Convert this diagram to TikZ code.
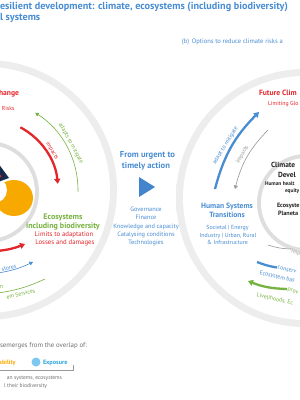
\documentclass[tikz,border=0pt]{standalone}
\usepackage{fontspec}
\setmainfont{PT Sans}
\usetikzlibrary{calc,arrows.meta}
\definecolor{ipblue}{RGB}{72,140,210}
\definecolor{iptri}{RGB}{66,133,204}
\definecolor{ipred}{RGB}{228,37,42}
\definecolor{ipgreen}{RGB}{118,178,63}
\definecolor{ipgray}{RGB}{150,150,150}
\definecolor{iptext}{RGB}{110,110,110}
\definecolor{ipdark}{RGB}{35,35,35}
\definecolor{iporange}{RGB}{247,169,0}
\definecolor{ipnavy}{RGB}{23,43,77}
\definecolor{iplight}{RGB}{125,200,240}
\definecolor{ipexpo}{RGB}{45,165,220}
\pgfdeclareradialshading{diskshade}{\pgfpoint{0bp}{0bp}}{color(0bp)=(white); color(34bp)=(white); color(50bp)=(black!5)}
\pgfdeclareradialshading{haloshade}{\pgfpoint{0bp}{0bp}}{color(0bp)=(black!7); color(47.2bp)=(black!7); color(50bp)=(white)}
\begin{document}
\begin{tikzpicture}[x=1pt,y=1pt,
  base/.style={inner sep=0pt, outer sep=0pt, text height=0.7em, text depth=0.2em},
  ttl/.style={base, font=\fontsize{10.2}{12}\selectfont\bfseries, text=ipblue},
  sub/.style={base, font=\fontsize{6.5}{8}\selectfont, text=ipblue},
  redhead/.style={base, font=\fontsize{7.6}{9}\selectfont\bfseries, text=ipred},
  redsm/.style={base, font=\fontsize{6.8}{8}\selectfont, text=ipred},
  midhead/.style={base, font=\fontsize{8.6}{10}\selectfont\bfseries, text=ipblue},
  bluehead/.style={base, font=\fontsize{7.6}{9}\selectfont\bfseries, text=ipblue},
  bluesm/.style={base, font=\fontsize{6.3}{8}\selectfont, text=ipblue},
  hsm/.style={base, font=\fontsize{5.9}{7}\selectfont, text=ipblue},
  greenhead/.style={base, font=\fontsize{8}{9}\selectfont\bfseries, text=ipgreen},
  darkhead/.style={base, font=\fontsize{7.4}{9}\selectfont\bfseries, text=ipdark},
  darksm/.style={base, font=\fontsize{5.4}{7}\selectfont\bfseries, text=ipdark},
  darkmid/.style={base, font=\fontsize{6.2}{7}\selectfont\bfseries, text=ipdark},
  arclab/.style={base, font=\fontsize{5.8}{7}\selectfont},
  legend/.style={base, font=\fontsize{6.8}{8}\selectfont, text=iptext},
  legsm/.style={base, font=\fontsize{5.5}{7}\selectfont, text=iptext},
  legbold/.style={base, font=\fontsize{6.2}{7}\selectfont\bfseries},
  thickarc/.style={line width=2.3pt},
  thinarc/.style={line width=0.6pt},
  tip/.style={-{Triangle[length=5pt,width=6pt]}},
  smalltip/.style={-{Triangle[length=3.5pt,width=4pt]}}
]
\useasboundingbox (0,0) rectangle (300,-400);
\clip (0,0) rectangle (300,-400);
\coordinate (L) at (-13,-190);
\coordinate (Lin) at (-12,-192);
\coordinate (R) at (305,-198);
\coordinate (Rin) at (306,-203);
% disks
\shade[shading=haloshade] (L) circle (130);
\shade[shading=haloshade] (R) circle (129);
\shade[shading=diskshade] (L) circle (123);
\shade[shading=diskshade] (R) circle (122);
\fill[black!13] (Lin) circle (51);
\fill[white] (Lin) circle (47);
\fill[black!13] (Rin) circle (49);
\fill[white] (Rin) circle (45);
% left inner content
\begin{scope}
\clip (Lin) circle (47);
\fill[iporange] (14,-198) ellipse [x radius=19, y radius=18];
\fill[white] (-6,-190) circle (13);
\fill[ipnavy] (-2,-163) -- (9,-178) -- (-2,-182) -- cycle;
\fill[ipred] (0,-176) circle (1.5);
\end{scope}
% title
\node[ttl, anchor=west] (t1) at (0,-6.5) {esilient development: climate, ecosystems (including biodiversity)};
\node[ttl, anchor=west] (t2) at (0,-17.5) {l systems};
\node[sub, anchor=west] (tb) at (182,-41) {(b)\, Options to reduce climate risks a};
% left disk texts
\node[redhead, anchor=east] (cc) at (19,-93) {hange};
\node[redsm, font=\fontsize{5.8}{7}\selectfont, anchor=east] (rk) at (14.5,-108) {Risks};
\draw[thickarc, ipred, tip] ($(L)+(62:71)$) arc[start angle=62, end angle=5, radius=71];
\node[arclab, text=ipred, rotate=-59] (li) at ($(L)+(31:77)$) {impacts};
\draw[thinarc, ipgreen, smalltip] ($(L)+(-1:91)$) arc[start angle=-1, end angle=58, radius=91];
\node[arclab, text=ipgreen, rotate=-61] (la) at ($(L)+(29:97)$) {adapts to mitigate};
\node[greenhead] (e1) at (63,-217) {Ecosystems};
\node[greenhead] (e2) at (63,-225.5) {including biodiversity};
\node[redsm] (e3) at (64,-234) {Limits to adaptation};
\node[redsm] (e4) at (65,-242) {Losses and damages};
\coordinate (ra) at (-3,-251); \coordinate (rb) at (25,-244);
\draw[thickarc, ipred, tip] (ra) to[bend right=8] (rb);
\coordinate (ba) at (-2,-273); \coordinate (bb) at (33,-262);
\draw[thinarc, ipblue, smalltip] (ba) to[bend right=8] (bb);
\node[arclab, text=ipblue, rotate=13, anchor=east] (ls) at (16,-265.5) {stores};
\coordinate (ga) at (-2,-293); \coordinate (gb) at (45,-279);
\draw[thinarc, ipgreen] (ga) to[bend right=8] (gb);
\node[arclab, text=ipgreen, anchor=east] (ln) at (3,-286) {n};
\node[arclab, text=ipgreen, rotate=14, anchor=east] (lse) at (35,-290) {em Services};
% middle
\node[midhead] (m1) at (147.5,-155) {From urgent to};
\node[midhead] (m2) at (146,-165.5) {timely action};
\fill[iptri] (139,-177) -- (155,-187) -- (139,-197) -- cycle;
\node[bluesm] (g1) at (146,-209) {Governance};
\node[bluesm] (g2) at (146,-217.3) {Finance};
\node[bluesm] (g3) at (146,-225.6) {Knowledge and capacity};
\node[bluesm] (g4) at (146,-233.9) {Catalysing conditions};
\node[bluesm] (g5) at (146,-242.2) {Technologies};
% right disk
\node[redhead, anchor=west] (fc) at (259,-93) {Future Clim};
\node[redsm, font=\fontsize{5.8}{7}\selectfont, anchor=west] (lg) at (268,-103) {Limiting Glo};
\coordinate (bA) at (215,-189); \coordinate (bB) at (259,-112);
\draw[thickarc, ipblue, tip] (bA) to[bend left=15] (bB);
\node[arclab, text=ipblue, rotate=58] (ra2) at (224.5,-145) {adapt to mitigate};
\coordinate (gA) at (268,-130); \coordinate (gB) at (235,-189);
\draw[thinarc, ipgray, smalltip] (gA) to[bend right=15] (gB);
\node[arclab, text=ipgray, rotate=60] (ri) at (241.5,-154) {impacts};
\node[bluehead] (h1) at (227,-206) {Human Systems};
\node[bluehead] (h2) at (227,-214.5) {Transitions};
\node[hsm] (h3) at (227.5,-227) {Societal | Energy};
\node[hsm] (h4) at (228,-234.5) {Industry | Urban, Rural};
\node[hsm] (h5) at (227.5,-242) {\& Infrastructure};
\node[darkhead, anchor=west] (c1) at (271,-165) {Climate};
\node[darkhead, anchor=west] (c2) at (278,-175) {Devel};
\node[darksm, anchor=west] (c3) at (265,-183) {Human healt};
\node[darksm, anchor=west] (c4) at (285,-190) {equity};
\node[darkmid, anchor=west] (c5) at (277,-205) {Ecosyste};
\node[darkmid, anchor=west] (c6) at (278,-213) {Planeta};
\coordinate (iA) at (268,-245); \coordinate (iB) at (291,-249);
\draw[thinarc, ipgray] (iA) to[bend right=8] (iB);
\node[arclab, text=ipgray, rotate=-10, anchor=west] (rim) at (291.5,-250.5) {imp};
\coordinate (cA) at (257,-262); \coordinate (cB) at (277,-267.5);
\draw[thickarc, ipblue] (cA) to[bend right=6] (cB);
\node[arclab, text=ipblue, rotate=-14, anchor=west] (rc) at (278,-266.5) {conserv};
\node[arclab, text=ipblue, rotate=-13, anchor=west] (reb) at (260,-272) {Ecosystem bas};
\coordinate (pA) at (287,-289); \coordinate (pB) at (248,-281);
\draw[thickarc, ipgreen, tip] (pA) to[bend left=10] (pB);
\node[arclab, text=ipgreen, rotate=-15, anchor=west] (rp) at (288,-288.5) {prov};
\node[arclab, text=ipgreen, rotate=-12, anchor=west] (rl) at (257,-294.5) {Livelihoods, Ec};
% legend
\node[legend, anchor=west] (le) at (0,-345) {semerges from the overlap of:};
\node[legbold, text=iporange, anchor=east] (lv) at (15.5,-362) {ability};
\fill[iplight] (36,-362) circle (4.5);
\node[legbold, text=ipexpo, anchor=west] (lx) at (43,-362) {Exposure};
\coordinate (k0) at (0,-370); \coordinate (k1) at (73,-370); \coordinate (k2) at (73,-365);
\draw[black!40, line width=0.5pt] (k0) -- (k1) -- (k2);
\node[legsm, anchor=east] (l1) at (62,-377) {an systems, ecosystems};
\node[legsm, anchor=east] (l2) at (47,-385) {l their biodiversity};
\end{tikzpicture}
\end{document}
